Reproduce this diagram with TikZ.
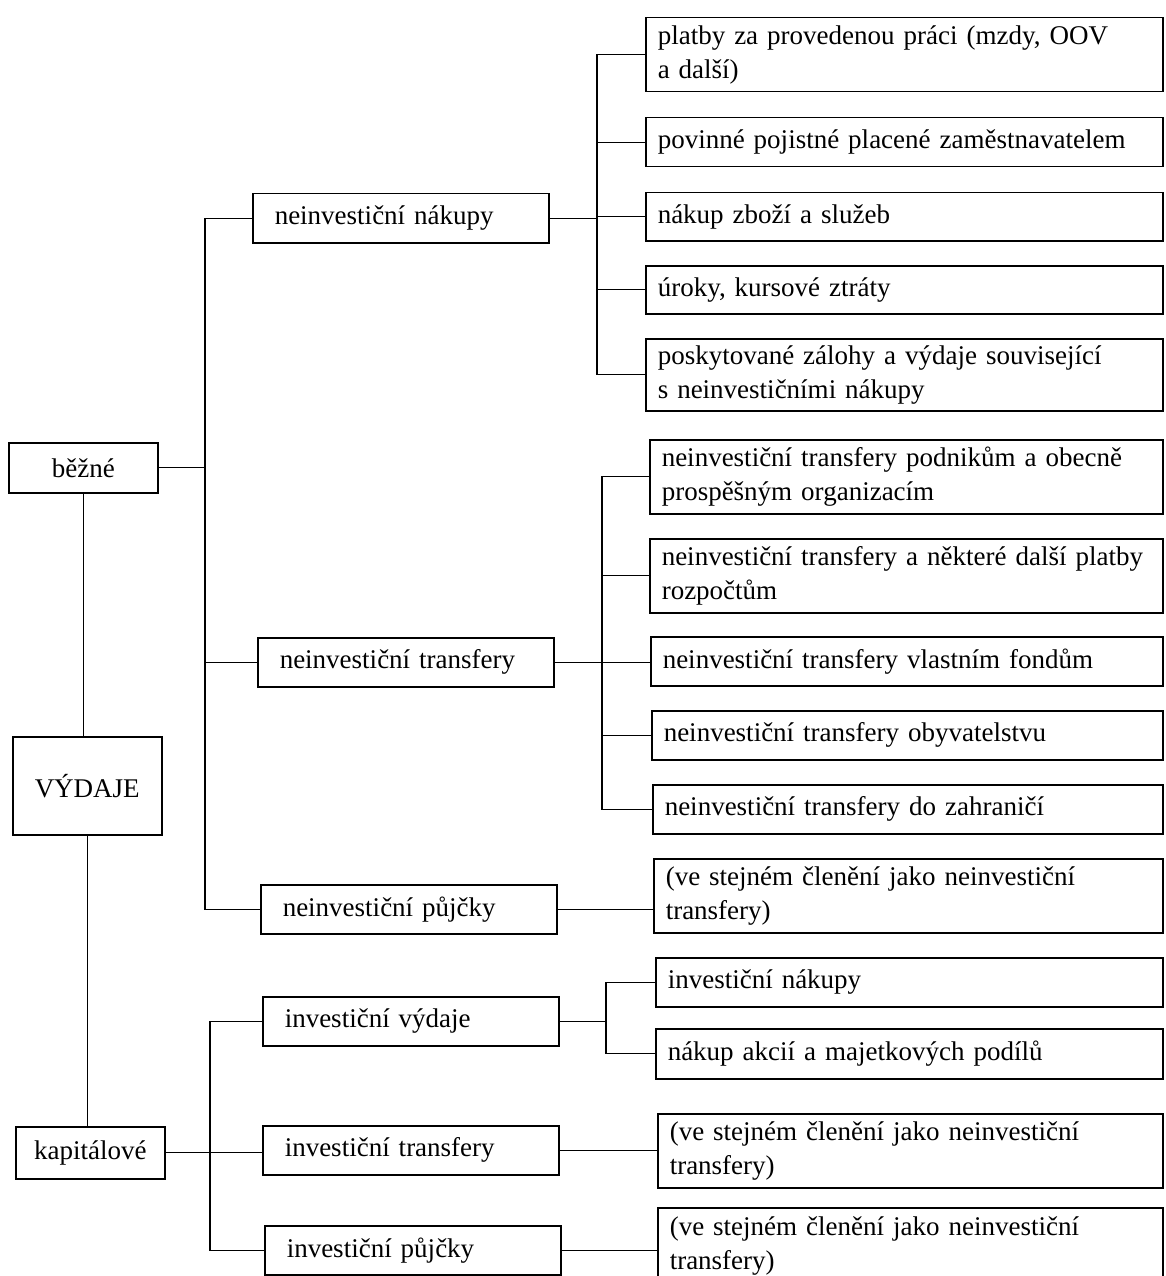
\documentclass[tikz,border=0pt]{standalone}
\usepackage{fontspec}
\setmainfont{Liberation Serif}
\tikzset{
  box/.style={draw, line width=1.5pt, anchor=north west, inner ysep=0pt,
              font=\fontsize{27}{34}\selectfont},
  lbox/.style={box, align=center, minimum width=149pt, inner xsep=0pt},
  mbox/.style={box, align=left, text width=252pt, inner xsep=22pt, minimum height=49pt},
  rbox/.style={box, align=left, text width=#1, inner xsep=12pt},
  conn/.style={line width=1.4pt}
}
\begin{document}
\begin{tikzpicture}[x=1pt, y=-1pt]
\useasboundingbox (0,0) rectangle (1165,1276);
% levy sloupec
\node[lbox, minimum height=50pt] (bezne) at (8,442) {běžné};
\node[lbox, minimum height=98pt] (vydaje) at (12,736) {VÝDAJE};
\node[lbox, minimum height=52pt] (kapital) at (15,1126) {kapitálové};
% stredni sloupec
\node[mbox] (nakupy) at (252,193) {neinvestiční nákupy};
\node[mbox] (transfery) at (257,637) {neinvestiční transfery};
\node[mbox] (pujcky) at (260,884) {neinvestiční půjčky};
\node[mbox] (invvydaje) at (262,996) {investiční výdaje};
\node[mbox] (invtransfery) at (262,1125) {investiční transfery};
\node[mbox] (invpujcky) at (264,1225) {investiční půjčky};
% pravy sloupec
\node[rbox=493pt, minimum height=74pt] (platby) at (645,17) {platby za provedenou práci (mzdy, OOV\\a další)};
\node[rbox=493pt, minimum height=49pt] (pojistne) at (645,117) {povinné pojistné placené zaměstnavatelem};
\node[rbox=493pt, minimum height=48pt] (zbozi) at (645,192) {nákup zboží a služeb};
\node[rbox=493pt, minimum height=48pt] (uroky) at (645,265) {úroky, kursové ztráty};
\node[rbox=493pt, minimum height=72pt] (zalohy) at (645,338) {poskytované zálohy a výdaje související\\s neinvestičními nákupy};
\node[rbox=489pt, minimum height=74pt] (podnikum) at (649,439) {neinvestiční transfery podnikům a obecně\\prospěšným organizacím};
\node[rbox=489pt, minimum height=74pt] (rozpoctum) at (649,538) {neinvestiční transfery a některé další platby\\rozpočtům};
\node[rbox=488pt, minimum height=49pt] (fondum) at (650,636) {neinvestiční transfery vlastním fondům};
\node[rbox=487pt, minimum height=49pt] (obyvatelstvu) at (651,710) {neinvestiční transfery obyvatelstvu};
\node[rbox=486pt, minimum height=49pt] (zahranici) at (652,784) {neinvestiční transfery do zahraničí};
\node[rbox=485pt, minimum height=74pt] (clenenia) at (653,858) {(ve stejném členění jako neinvestiční\\transfery)};
\node[rbox=483pt, minimum height=49pt] (invnakupy) at (655,957) {investiční nákupy};
\node[rbox=483pt, minimum height=50pt] (akcie) at (655,1028) {nákup akcií a majetkových podílů};
\node[rbox=481pt, minimum height=74pt] (clenenib) at (657,1113) {(ve stejném členění jako neinvestiční\\transfery)};
\node[rbox=481pt, minimum height=76pt] (clenenic) at (657,1207) {(ve stejném členění jako neinvestiční\\transfery)};
% spojnice
\coordinate (tb) at (205,0);
\coordinate (tk) at (210,0);
\coordinate (tn) at (597,0);
\coordinate (tt) at (602,0);
\coordinate (tv) at (606,0);
\draw[conn] (bezne.south) -- (bezne.south |- vydaje.north);
\draw[conn] (vydaje.south) -- (vydaje.south |- kapital.north);
\draw[conn] (bezne.east) -- (bezne.east -| tb);
\draw[conn] (nakupy.west) -| (tb |- bezne.east) |- (pujcky.west);
\draw[conn] (transfery.west) -- (transfery.west -| tb);
\draw[conn] (kapital.east) -- (kapital.east -| invtransfery.west);
\draw[conn] (invvydaje.west) -| (tk |- kapital.east) |- (invpujcky.west);
\draw[conn] (nakupy.east) -- (nakupy.east -| tn);
\draw[conn] (platby.west) -| (tn |- zbozi.west) |- (zalohy.west);
\draw[conn] (pojistne.west) -- (pojistne.west -| tn);
\draw[conn] (zbozi.west) -- (zbozi.west -| tn);
\draw[conn] (uroky.west) -- (uroky.west -| tn);
\draw[conn] (transfery.east) -- (transfery.east -| fondum.west);
\draw[conn] (podnikum.west) -| (tt |- fondum.west) |- (zahranici.west);
\draw[conn] (rozpoctum.west) -- (rozpoctum.west -| tt);
\draw[conn] (obyvatelstvu.west) -- (obyvatelstvu.west -| tt);
\draw[conn] (pujcky.east) -- (pujcky.east -| clenenia.west);
\draw[conn] (invvydaje.east) -- (invvydaje.east -| tv);
\draw[conn] (invnakupy.west) -| (tv |- invvydaje.east) |- (akcie.west);
\draw[conn] (invtransfery.east) -- (invtransfery.east -| clenenib.west);
\draw[conn] (invpujcky.east) -- (invpujcky.east -| clenenic.west);
\end{tikzpicture}
\end{document}
